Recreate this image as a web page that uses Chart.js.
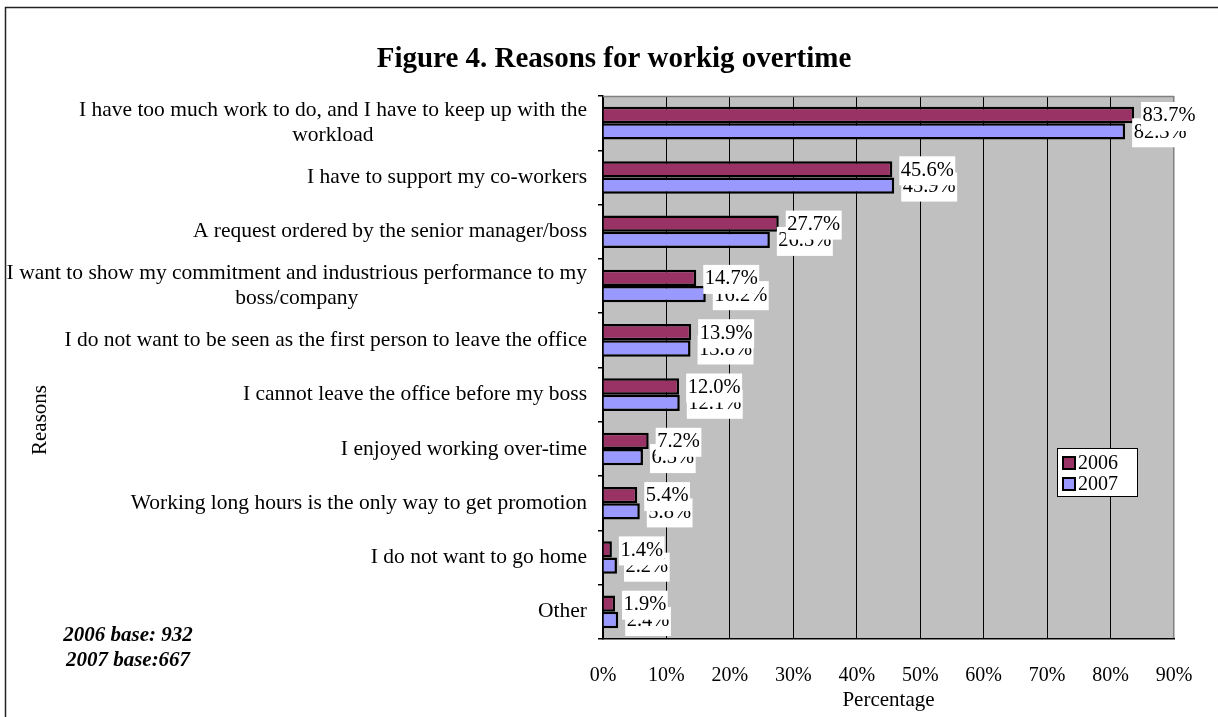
<!DOCTYPE html>
<html>
<head>
<meta charset="utf-8">
<script src="https://cdn.jsdelivr.net/npm/chart.js@4.4.0/dist/chart.umd.min.js"></script>
<style>
  html, body { margin: 0; padding: 0; background: #fff; overflow: hidden; }
  #wrap { width: 1218px; height: 717px; position: relative; }
</style>
</head>
<body>
<div id="wrap"><canvas id="c" width="1218" height="717"></canvas></div>
<script>
// Reasons (top to bottom), multi-line entries are wrapped labels
const reasons = [
  ['I have too much work to do, and I have to keep up with the', 'workload'],
  'I have to support my co-workers',
  'A request ordered by the senior manager/boss',
  ['I want to show my commitment and industrious performance to my', 'boss/company'],
  'I do not want to be seen as the first person to leave the office',
  'I cannot leave the office before my boss',
  'I enjoyed working over-time',
  'Working long hours is the only way to get promotion',
  'I do not want to go home',
  'Other'
];
const values2006 = [83.7, 45.6, 27.7, 14.7, 13.9, 12.0, 7.2, 5.4, 1.4, 1.9];
const values2007 = [82.3, 45.9, 26.3, 16.2, 13.8, 12.1, 6.3, 5.8, 2.2, 2.4];
const seriesNames = ['2006', '2007'];
const seriesColors = ['#993366', '#9999FF'];
const xTickValues = [0, 10, 20, 30, 40, 50, 60, 70, 80, 90];
const chartTitle = 'Figure 4. Reasons for workig overtime';
const xAxisTitle = 'Percentage';
const yAxisTitle = 'Reasons';
const baseNotes = ['2006 base: 932', '2007 base:667'];

const SERIF = '"Liberation Serif", "Times New Roman", serif';

// Grey plot background, frame, texts, legend and value labels
const decorPlugin = {
  id: 'decor',
  beforeDraw(chart) {
    const { ctx, chartArea: a } = chart;
    ctx.save();
    ctx.fillStyle = '#fff';
    ctx.fillRect(0, 0, chart.width, chart.height);
    ctx.fillStyle = '#C0C0C0';
    ctx.fillRect(a.left, a.top, a.right - a.left, a.bottom - a.top);
    // outer frame
    ctx.strokeStyle = '#222';
    ctx.lineWidth = 1.5;
    ctx.beginPath();
    ctx.moveTo(5.5, 717);
    ctx.lineTo(5.5, 7.5);
    ctx.lineTo(1218, 7.5);
    ctx.stroke();
    ctx.restore();
  },
  afterDraw(chart) {
    const { ctx, chartArea: a } = chart;
    ctx.save();
    // top plot border
    ctx.strokeStyle = '#808080';
    ctx.lineWidth = 1.5;
    ctx.beginPath();
    ctx.moveTo(a.left, a.top + 0.5);
    ctx.lineTo(a.right, a.top + 0.5);
    ctx.stroke();

    // title
    ctx.fillStyle = '#000';
    ctx.textAlign = 'center';
    ctx.textBaseline = 'middle';
    ctx.font = 'bold 29px ' + SERIF;
    ctx.fillText(chartTitle, 614, 60);

    // category labels
    const yScale = chart.scales.y;
    ctx.font = '21.5px ' + SERIF;
    reasons.forEach((lab, i) => {
      const y = yScale.getPixelForValue(i);
      const rightX = 587;
      if (Array.isArray(lab)) {
        const lh = 25;
        const w = Math.max(...lab.map(t => ctx.measureText(t).width));
        const cx = rightX - w / 2;
        ctx.textAlign = 'center';
        lab.forEach((t, k) => {
          ctx.fillText(t, cx, y + (k - (lab.length - 1) / 2) * lh);
        });
      } else {
        ctx.textAlign = 'right';
        ctx.fillText(lab, rightX, y);
      }
    });

    // y-axis title
    ctx.save();
    ctx.translate(40, 420);
    ctx.rotate(-Math.PI / 2);
    ctx.textAlign = 'center';
    ctx.font = '21px ' + SERIF;
    ctx.fillText(yAxisTitle, 0, 0);
    ctx.restore();

    // base notes
    ctx.font = 'italic bold 21px ' + SERIF;
    ctx.textAlign = 'center';
    ctx.fillText(baseNotes[0], 128, 636);
    ctx.fillText(baseNotes[1], 128, 661);

    // legend
    const lx = 1057, ly = 448, lw = 80, lh = 48;
    ctx.fillStyle = '#fff';
    ctx.fillRect(lx, ly, lw, lh);
    ctx.strokeStyle = '#000';
    ctx.lineWidth = 1;
    ctx.strokeRect(lx + 0.5, ly + 0.5, lw, lh);
    ctx.font = '20px ' + SERIF;
    ctx.textAlign = 'left';
    chart.data.datasets.forEach((ds, k) => {
      const cy = ly + 15 + k * 21;
      ctx.fillStyle = ds.backgroundColor;
      ctx.fillRect(lx + 6, cy - 6, 12, 12);
      ctx.strokeStyle = '#000';
      ctx.lineWidth = 2;
      ctx.strokeRect(lx + 6, cy - 6, 12, 12);
      ctx.fillStyle = '#000';
      ctx.fillText(ds.label, lx + 21, cy + 1);
    });
    ctx.restore();
  },
  // value labels with white boxes, 2006 drawn over 2007
  afterDatasetsDraw(chart) {
    const { ctx } = chart;
    ctx.save();
    ctx.font = '20.5px ' + SERIF;
    ctx.textAlign = 'left';
    ctx.textBaseline = 'middle';
    [1, 0].forEach(d => {
      const meta = chart.getDatasetMeta(d);
      const vals = chart.data.datasets[d].data;
      meta.data.forEach((bar, i) => {
        const txt = vals[i].toFixed(1) + '%';
        const w = ctx.measureText(txt).width;
        const x = bar.x + 7;
        const cy = bar.y;
        ctx.fillStyle = '#fff';
        ctx.fillRect(x, cy - 13, w + 3, 29);
        ctx.fillStyle = '#000';
        ctx.fillText(txt, x + 1.5, cy + 1);
      });
    });
    ctx.restore();
  }
};

const labelFont = { family: SERIF, size: 20 };

new Chart(document.getElementById('c'), {
  type: 'bar',
  data: {
    labels: reasons.map(r => Array.isArray(r) ? r.join(' ') : r),
    datasets: [
      {
        label: seriesNames[0], data: values2006,
        backgroundColor: seriesColors[0], borderColor: '#000', borderWidth: 2.5,
        categoryPercentage: 0.6, barPercentage: 1.0
      },
      {
        label: seriesNames[1], data: values2007,
        backgroundColor: seriesColors[1], borderColor: '#000', borderWidth: 2.5,
        categoryPercentage: 0.6, barPercentage: 1.0
      }
    ]
  },
  options: {
    indexAxis: 'y',
    responsive: false,
    animation: false,
    devicePixelRatio: 1,
    layout: { padding: { top: 96, right: 44, left: 0, bottom: 0 } },
    plugins: {
      legend: { display: false },
      title: { display: false },
      tooltip: { enabled: false }
    },
    scales: {
      x: {
        min: xTickValues[0],
        max: xTickValues[xTickValues.length - 1],
        afterBuildTicks(s) { s.ticks = xTickValues.map(v => ({ value: v })); },
        afterFit(s) { s.height = 78; },
        ticks: {
          callback: v => v + '%',
          font: labelFont, color: '#000', padding: 25, maxRotation: 0, autoSkip: false
        },
        grid: {
          drawTicks: false,
          color: ctx => (ctx.tick && ctx.tick.value === 90 ? '#808080' : '#000'),
          lineWidth: ctx => (ctx.tick && ctx.tick.value === 90 ? 1.5 : 1)
        },
        border: { color: '#000', width: 1.5 },
        title: {
          display: true, text: xAxisTitle, font: { family: SERIF, size: 21 },
          color: '#000', padding: { top: 0, bottom: 4 }
        }
      },
      y: {
        afterFit(s) { s.width = 603; },
        ticks: { display: false },
        grid: {
          drawOnChartArea: false, drawTicks: true, tickLength: 5,
          color: '#000', lineWidth: 1.5, offset: true
        },
        border: { color: '#000', width: 1.5 }
      }
    }
  },
  plugins: [decorPlugin]
});
</script>
</body>
</html>
